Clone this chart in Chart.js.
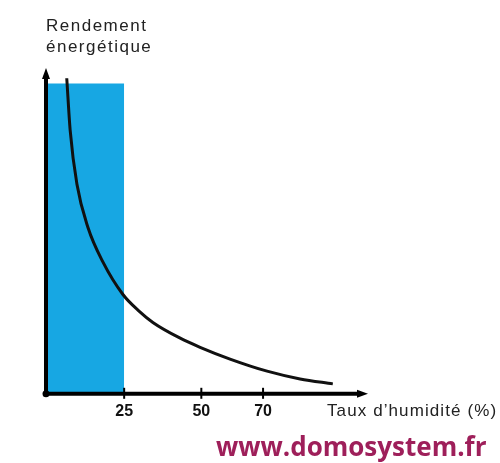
<!DOCTYPE html>
<html>
<head>
<meta charset="utf-8">
<script src="https://cdn.jsdelivr.net/npm/chart.js@4/dist/chart.umd.min.js"></script>
<style>
  body { margin: 0; background: #fff; }
  #wrap { position: relative; width: 500px; height: 463px; overflow: hidden; }
  #chart { position: absolute; left: 0; top: 0; }
  .lbl { position: absolute; white-space: nowrap; font-family: "Liberation Sans", Arial, sans-serif; color: #222; }
  #ytitle { left: 46px; top: 15px; font-size: 17px; line-height: 21px; letter-spacing: 1.5px; }
  #xtitle { left: 327px; top: 401px; font-size: 17px; line-height: 20px; letter-spacing: 1.1px; }
  #site { left: 216px; top: 431px; font-family: "Open Sans", sans-serif; font-weight: 700; font-size: 26px; line-height: 30px; color: #9e1f5a; }
</style>
</head>
<body>
<div id="wrap">
  <canvas id="chart" width="500" height="463"></canvas>
  <div class="lbl" id="ytitle">Rendement<br>énergétique</div>
  <div class="lbl" id="xtitle">Taux d’humidité (%)</div>
  <div class="lbl" id="site">www.domosystem.fr</div>
</div>
<script>
// humidity (%) vs energy yield
const curveX = [6.4, 7.5, 9.7, 13.3, 18.1, 24.6, 30, 34.3, 43, 49.6, 59.3, 71.3, 82, 92.6];
const curveY = [101.7, 85, 67.5, 53.5, 42.5, 32, 26.5, 23, 18, 15, 11.2, 7.3, 4.8, 3.2];
// shaded zone: 0 to 25 % humidity
const zoneX = [0, 25];
const zoneY = [100, 100];
const tickValues = [25, 50, 70];
const xMax = 104;
const yMax = 105;

const axesPlugin = {
  id: "arrowAxes",
  afterDatasetsDraw(chart) {
    const ctx = chart.ctx;
    const x = chart.scales.x;
    const y = chart.scales.y;
    const x0 = x.getPixelForValue(0) - 1;
    const y0 = y.getPixelForValue(0);
    const xEnd = x.getPixelForValue(xMax);
    const yEnd = y.getPixelForValue(yMax);
    ctx.save();
    ctx.strokeStyle = "#000";
    ctx.fillStyle = "#000";
    ctx.lineCap = "round";
    ctx.lineWidth = 4;
    ctx.beginPath();
    ctx.moveTo(x0, y0);
    ctx.lineTo(x0, yEnd + 8);
    ctx.moveTo(x0, y0);
    ctx.lineTo(xEnd - 8, y0);
    ctx.stroke();
    // arrow heads
    ctx.beginPath();
    ctx.moveTo(x0, yEnd);
    ctx.lineTo(x0 - 4, yEnd + 11);
    ctx.lineTo(x0 + 4, yEnd + 11);
    ctx.closePath();
    ctx.fill();
    ctx.beginPath();
    ctx.moveTo(xEnd, y0);
    ctx.lineTo(xEnd - 11, y0 - 4);
    ctx.lineTo(xEnd - 11, y0 + 4);
    ctx.closePath();
    ctx.fill();
    // origin dot
    ctx.beginPath();
    ctx.arc(x0, y0, 3.5, 0, Math.PI * 2);
    ctx.fill();
    // tick marks
    ctx.lineWidth = 2;
    ctx.lineCap = "butt";
    x.ticks.forEach((t) => {
      const px = x.getPixelForValue(t.value);
      ctx.beginPath();
      ctx.moveTo(px, y0 - 6);
      ctx.lineTo(px, y0 + 5);
      ctx.stroke();
    });
    ctx.restore();
  },
};

const ctx = document.getElementById("chart").getContext("2d");
new Chart(ctx, {
  type: "line",
  data: {
    datasets: [
      {
        label: "Rendement",
        data: curveX.map((v, i) => ({ x: v, y: curveY[i] })),
        borderColor: "#111",
        borderWidth: 3,
        pointRadius: 0,
        cubicInterpolationMode: "monotone",
        fill: false,
        order: 0,
      },
      {
        label: "Zone",
        data: zoneX.map((v, i) => ({ x: v, y: zoneY[i] })),
        borderWidth: 0,
        borderColor: "rgba(0,0,0,0)",
        backgroundColor: "#17a7e3",
        pointRadius: 0,
        fill: "origin",
        order: 1,
      },
    ],
  },
  options: {
    responsive: false,
    animation: false,
    layout: { padding: { left: 47, right: 132, top: 68, bottom: 34 } },
    plugins: { legend: { display: false }, tooltip: { enabled: false } },
    scales: {
      x: {
        type: "linear",
        min: 0,
        max: xMax,
        afterBuildTicks: (axis) => {
          axis.ticks = tickValues.map((v) => ({ value: v }));
        },
        grid: { display: false, drawTicks: false },
        border: { display: false },
        ticks: {
          color: "#111",
          padding: 8,
          font: { family: "Liberation Sans", size: 16, weight: "bold" },
        },
      },
      y: {
        type: "linear",
        min: 0,
        max: yMax,
        display: false,
      },
    },
  },
  plugins: [axesPlugin],
});
</script>
</body>
</html>
